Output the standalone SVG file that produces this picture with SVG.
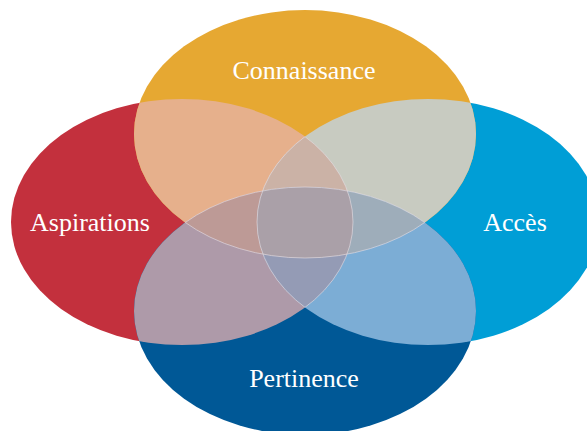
<svg xmlns="http://www.w3.org/2000/svg" width="587" height="431" viewBox="0 0 587 431">
<style>
.lbl{font-family:"Liberation Serif","Times New Roman",serif;font-size:26px;fill:#ffffff;text-anchor:middle}
.edge{fill:none;stroke:#e4dde2;stroke-width:0.8;stroke-opacity:0.8}
</style>
<defs>
<ellipse id="eT" cx="305" cy="134" rx="171" ry="124"/>
<ellipse id="eB" cx="305" cy="311" rx="171" ry="124"/>
<ellipse id="eL" cx="182" cy="222" rx="171" ry="123"/>
<ellipse id="eR" cx="428" cy="222" rx="171" ry="123"/>
<clipPath id="cT"><use href="#eT"/></clipPath>
<clipPath id="cB"><use href="#eB"/></clipPath>
<clipPath id="cL"><use href="#eL"/></clipPath>
<clipPath id="cR"><use href="#eR"/></clipPath>
</defs>
<rect width="587" height="431" fill="#ffffff"/>
<g id="node-aspirations">
<use href="#eL" fill="#c3303d"/>
<text class="lbl" x="90" y="231">Aspirations</text>
</g>
<g id="node-acces">
<use href="#eR" fill="#009ed6"/>
<text class="lbl" x="515" y="231">Accès</text>
</g>
<g id="node-connaissance">
<use href="#eT" fill="#e6a832"/>
<text class="lbl" x="304" y="79">Connaissance</text>
</g>
<g id="node-pertinence">
<use href="#eB" fill="#005896"/>
<text class="lbl" x="304" y="387">Pertinence</text>
</g>
<g id="overlaps">
<use href="#eL" fill="#e6b08c" clip-path="url(#cT)"/>
<use href="#eR" fill="#c8cbc1" clip-path="url(#cT)"/>
<use href="#eL" fill="#ae9aa9" clip-path="url(#cB)"/>
<use href="#eR" fill="#7cadd5" clip-path="url(#cB)"/>
<g clip-path="url(#cR)"><use href="#eL" fill="#cbb2a6" clip-path="url(#cT)"/></g>
<g clip-path="url(#cR)"><use href="#eL" fill="#949bb5" clip-path="url(#cB)"/></g>
<g clip-path="url(#cL)"><use href="#eT" fill="#bd9a96" clip-path="url(#cB)"/></g>
<g clip-path="url(#cR)"><use href="#eT" fill="#9eadba" clip-path="url(#cB)"/></g>
<g clip-path="url(#cR)"><g clip-path="url(#cL)"><use href="#eT" fill="#aaa0a8" clip-path="url(#cB)"/></g></g>
</g>
<g id="connectors">
<use href="#eT" class="edge" clip-path="url(#cB)"/>
<use href="#eB" class="edge" clip-path="url(#cT)"/>
<use href="#eL" class="edge" clip-path="url(#cR)"/>
<use href="#eR" class="edge" clip-path="url(#cL)"/>
</g>
</svg>
